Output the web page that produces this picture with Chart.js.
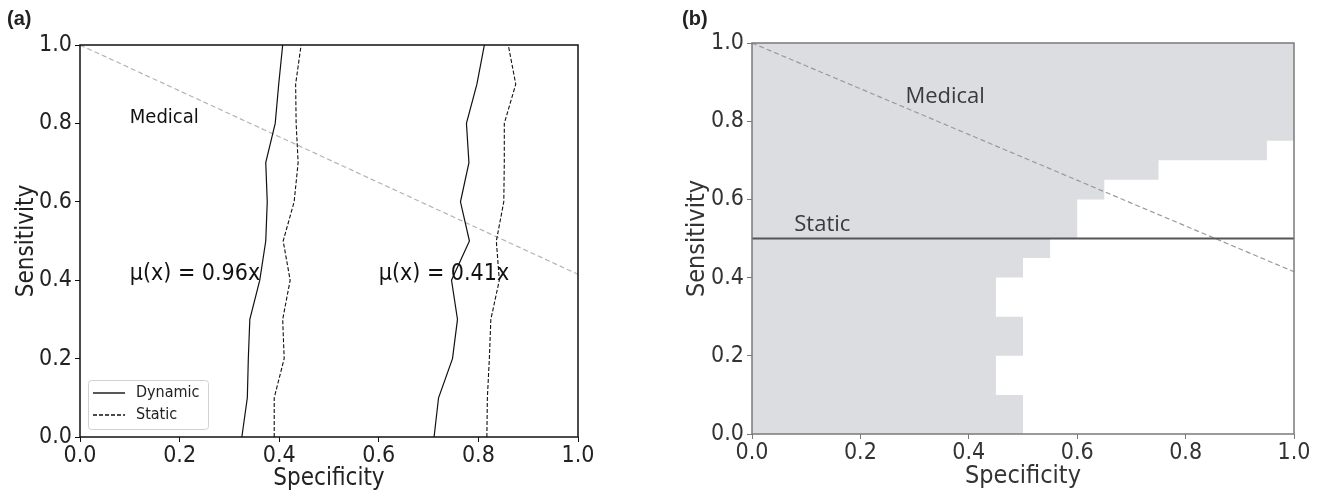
<!DOCTYPE html>
<html>
<head>
<meta charset="utf-8">
<script src="https://cdn.jsdelivr.net/npm/chart.js@4.4.1/dist/chart.umd.min.js"></script>
<style>
html, body { margin: 0; padding: 0; background: #fff; }
#wrap { position: relative; width: 1324px; height: 493px; }
canvas { position: absolute; top: 0; }
#chartA { left: 0; }
#chartB { left: 660px; }
</style>
</head>
<body>
<div id="wrap">
  <canvas id="chartA" width="640" height="493"></canvas>
  <canvas id="chartB" width="664" height="493"></canvas>
</div>
<script>
// (a) sensitivity levels at which the curves were read
var sensLevels  = [0, 0.1, 0.2, 0.3, 0.4, 0.5, 0.6, 0.7, 0.8, 0.9, 1.0];
var dynamicLow  = [0.325, 0.336, 0.338, 0.341, 0.361, 0.373, 0.376, 0.373, 0.392, 0.399, 0.407];
var staticLow   = [0.390, 0.390, 0.410, 0.407, 0.422, 0.408, 0.430, 0.438, 0.434, 0.433, 0.444];
var dynamicHigh = [0.711, 0.720, 0.748, 0.758, 0.746, 0.782, 0.764, 0.781, 0.776, 0.797, 0.812];
var staticHigh  = [0.817, 0.818, 0.822, 0.825, 0.842, 0.836, 0.851, 0.852, 0.852, 0.875, 0.860];
var medicalSpec = [0, 1];
var medicalSens = [1, 0.415];

// (b) shaded region: band edges on sensitivity and specificity limit in each band
var stepSens = [0, 0.1, 0.2, 0.3, 0.4, 0.45, 0.5, 0.6, 0.65, 0.7, 0.75, 1.0];
var stepSpec = [0.50, 0.45, 0.50, 0.45, 0.50, 0.55, 0.60, 0.65, 0.75, 0.95, 1.0];
var staticSpec = [0, 1];
var staticSens = [0.5, 0.5];

var tickVals = [0, 0.2, 0.4, 0.6, 0.8, 1.0];

function pairs(xs, ys) {
  return xs.map(function (x, i) { return {x: x, y: ys[i]}; });
}
function curve(xs) { return pairs(xs, sensLevels); }

function regionPoly() {
  var pts = [{x: 0, y: 0}];
  for (var i = 0; i < stepSpec.length; i++) {
    pts.push({x: stepSpec[i], y: stepSens[i]});
    pts.push({x: stepSpec[i], y: stepSens[i + 1]});
  }
  pts.push({x: 0, y: 1});
  pts.push({x: 0, y: 0});
  return pts;
}

var tickFont = 'DejaVu Sans Condensed, DejaVu Sans';

// frame, notes, legend and panel letters
function decor(o) {
  return {
    id: 'decor',
    afterDatasetsDraw: function (chart) {
      var ctx = chart.ctx, a = chart.chartArea;
      var sx = chart.scales.x, sy = chart.scales.y;
      ctx.save();
      o.notes.forEach(function (n) {
        ctx.font = n.font;
        ctx.fillStyle = n.color;
        ctx.textBaseline = 'alphabetic';
        ctx.textAlign = 'left';
        ctx.fillText(n.text, sx.getPixelForValue(n.x), sy.getPixelForValue(n.y));
      });
      ctx.strokeStyle = o.frame;
      ctx.lineWidth = o.frameWidth;
      ctx.strokeRect(a.left, a.top, a.right - a.left, a.bottom - a.top);
      ctx.font = 'bold 20px Liberation Sans';
      ctx.fillStyle = '#222';
      ctx.textBaseline = 'middle';
      ctx.fillText(o.letter, o.letterX, 19);
      if (o.legend) {
        var lx = a.left + 8, ly = a.bottom - 57;
        ctx.fillStyle = 'rgba(255,255,255,0.85)';
        ctx.strokeStyle = '#d0d0d0';
        ctx.lineWidth = 1;
        ctx.beginPath();
        ctx.roundRect(lx + 0.5, ly + 0.5, 120, 49, 3);
        ctx.fill();
        ctx.stroke();
        chart.data.datasets.forEach(function (d) {
          if (d.legendRow === undefined) return;
          var yy = ly + 13 + d.legendRow * 22;
          ctx.strokeStyle = '#111';
          ctx.lineWidth = 1.4;
          ctx.setLineDash(d.borderDash || []);
          ctx.beginPath();
          ctx.moveTo(lx + 5, yy);
          ctx.lineTo(lx + 37, yy);
          ctx.stroke();
          ctx.setLineDash([]);
          ctx.fillStyle = '#222';
          ctx.font = '16px ' + tickFont;
          ctx.textBaseline = 'middle';
          ctx.fillText(d.label, lx + 48, yy);
        });
      }
      ctx.restore();
    }
  };
}

function axis(o, pos) {
  var isX = pos === 'bottom';
  return {
    type: 'linear', position: pos, min: 0, max: 1,
    afterBuildTicks: function (s) { s.ticks = tickVals.map(function (v) { return {value: v}; }); },
    afterFit: function (s) { if (isX) s.height = o.xH; else s.width = o.yW; },
    grid: {drawOnChartArea: false, drawTicks: true, tickLength: 5, tickColor: o.frame, tickWidth: 1},
    border: {display: false},
    ticks: {
      color: o.text, font: {family: tickFont, size: o.tickSize}, padding: isX ? 0 : 3,
      maxRotation: 0, autoSkip: false,
      callback: function (v) { return Number(v).toFixed(1); }
    },
    title: {
      display: true, text: isX ? 'Specificity' : 'Sensitivity', color: o.text,
      font: {family: tickFont, size: o.titleSize},
      padding: isX ? {top: 0, bottom: o.xTitlePad} : {top: o.yTitlePad, bottom: 0}
    }
  };
}

function options(o) {
  return {
    responsive: false, animation: false,
    layout: {padding: o.pad},
    plugins: {legend: {display: false}, tooltip: {enabled: false}},
    scales: {x: axis(o, 'bottom'), y: axis(o, 'left')}
  };
}

var optA = {
  frame: '#111', frameWidth: 1.5, text: '#222', tickSize: 23, titleSize: 24,
  xH: 56, yW: 80, xTitlePad: 0, yTitlePad: 12,
  pad: {top: 45, right: 62, left: 0, bottom: 0},
  letter: '(a)', letterX: 7, legend: true,
  notes: [
    {text: 'Medical', x: 0.1, y: 0.8, font: '20px ' + tickFont, color: '#111'},
    {text: 'μ(x) = 0.96x', x: 0.1, y: 0.4, font: '23px ' + tickFont, color: '#111'},
    {text: 'μ(x) = 0.41x', x: 0.6, y: 0.4, font: '23px ' + tickFont, color: '#111'}
  ]
};

// Chart.js paints the last dataset first, so background marks go last
new Chart(document.getElementById('chartA').getContext('2d'), {
  type: 'scatter',
  data: {
    datasets: [
      {label: 'Dynamic', data: curve(dynamicLow), showLine: true, pointRadius: 0,
       borderColor: '#111', borderWidth: 1.2, legendRow: 0},
      {label: 'Static', data: curve(staticLow), showLine: true, pointRadius: 0,
       borderColor: '#111', borderWidth: 1.1, borderDash: [4, 2], legendRow: 1},
      {label: 'Dynamic', data: curve(dynamicHigh), showLine: true, pointRadius: 0,
       borderColor: '#111', borderWidth: 1.2},
      {label: 'Static', data: curve(staticHigh), showLine: true, pointRadius: 0,
       borderColor: '#111', borderWidth: 1.1, borderDash: [4, 2]},
      {label: 'Medical', data: pairs(medicalSpec, medicalSens), showLine: true, pointRadius: 0,
       borderColor: '#b4b4b4', borderWidth: 1.2, borderDash: [5, 3]}
    ]
  },
  options: options(optA),
  plugins: [decor(optA)]
});

var optB = {
  frame: '#7a7a7a', frameWidth: 1.5, text: '#333', tickSize: 23, titleSize: 25,
  xH: 59, yW: 92, xTitlePad: 2, yTitlePad: 22,
  pad: {top: 43, right: 30, left: 0, bottom: 0},
  letter: '(b)', letterX: 22, legend: false,
  notes: [
    {text: 'Medical', x: 0.283, y: 0.846, font: '22px Open Sans', color: '#3a3a3a'},
    {text: 'Static', x: 0.078, y: 0.518, font: '22px Open Sans', color: '#3a3a3a'}
  ]
};

new Chart(document.getElementById('chartB').getContext('2d'), {
  type: 'scatter',
  data: {
    datasets: [
      {label: 'Static', data: pairs(staticSpec, staticSens), showLine: true, pointRadius: 0,
       borderColor: '#555', borderWidth: 2},
      {label: 'Medical', data: pairs(medicalSpec, medicalSens), showLine: true, pointRadius: 0,
       borderColor: '#9a9a9a', borderWidth: 1.2, borderDash: [5, 3]},
      {label: 'Region', data: regionPoly(), showLine: true, pointRadius: 0,
       borderWidth: 0, borderColor: 'rgba(0,0,0,0)', backgroundColor: 'rgb(220,221,224)', fill: 'shape'}
    ]
  },
  options: options(optB),
  plugins: [decor(optB)]
});
</script>
</body>
</html>
